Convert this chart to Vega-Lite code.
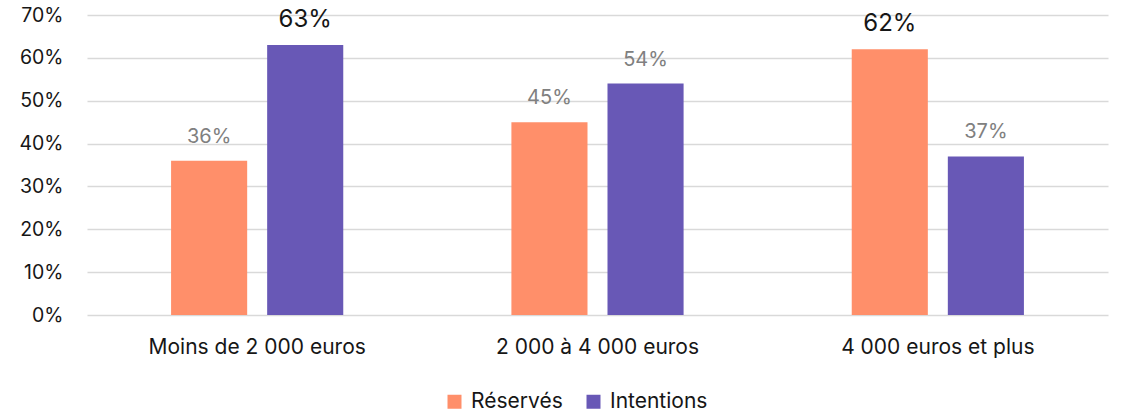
{
  "$schema": "https://vega.github.io/schema/vega-lite/v6.json",
  "width": 1021,
  "height": 300,
  "autosize": "none",
  "padding": {"left": 87, "top": 15, "right": 14, "bottom": 99},
  "background": "white",
  "config": {
    "font": "Inter",
    "view": {"stroke": null}
  },
  "data": {
    "values": [
      {"groupe": "Moins de 2 000 euros", "serie": "Réservés", "value": 0.36},
      {"groupe": "Moins de 2 000 euros", "serie": "Intentions", "value": 0.63},
      {"groupe": "2 000 à 4 000 euros", "serie": "Réservés", "value": 0.45},
      {"groupe": "2 000 à 4 000 euros", "serie": "Intentions", "value": 0.54},
      {"groupe": "4 000 euros et plus", "serie": "Réservés", "value": 0.62},
      {"groupe": "4 000 euros et plus", "serie": "Intentions", "value": 0.37}
    ]
  },
  "encoding": {
    "x": {
      "field": "groupe", "type": "nominal", "sort": null,
      "scale": {"paddingInner": 0, "paddingOuter": 0},
      "axis": {"title": null, "labelAngle": 0, "labelFontSize": 21, "labelLimit": 0, "labelColor": "#161616", "labelPadding": 21, "ticks": false, "domain": false}
    },
    "xOffset": {
      "field": "serie", "type": "nominal", "sort": ["Réservés", "Intentions"],
      "scale": {"paddingInner": 0.208, "paddingOuter": 0.875}
    },
    "y": {
      "field": "value", "type": "quantitative",
      "scale": {"domain": [0, 0.7], "nice": false},
      "axis": {"title": null, "format": ".0%", "values": [0, 0.1, 0.2, 0.3, 0.4, 0.5, 0.6, 0.7], "labelFontSize": 19.5, "labelColor": "#161616", "labelPadding": 24, "ticks": false, "domain": false, "gridColor": "#D9D9D9", "gridWidth": 1.5}
    }
  },
  "layer": [
    {
      "mark": {"type": "bar"},
      "encoding": {
        "color": {
          "field": "serie", "type": "nominal", "sort": ["Réservés", "Intentions"],
          "scale": {"domain": ["Réservés", "Intentions"], "range": ["#FF8F6A", "#6858B6"]},
          "legend": {
            "title": null, "orient": "none", "direction": "horizontal",
            "legendX": 357, "legendY": 376,
            "symbolType": "square", "symbolSize": 196, "symbolStrokeWidth": 0,
            "labelFontSize": 21, "labelColor": "#161616", "labelOffset": 6, "columnPadding": 20
          }
        }
      }
    },
    {
      "mark": {"type": "text", "baseline": "alphabetic", "dy": -18},
      "encoding": {
        "text": {"field": "value", "type": "quantitative", "format": ".0%"},
        "size": {"condition": {"test": "datum.value >= 0.6", "value": 24}, "value": 20},
        "color": {"condition": {"test": "datum.value >= 0.6", "value": "#161616"}, "value": "#808080"}
      }
    }
  ]
}
